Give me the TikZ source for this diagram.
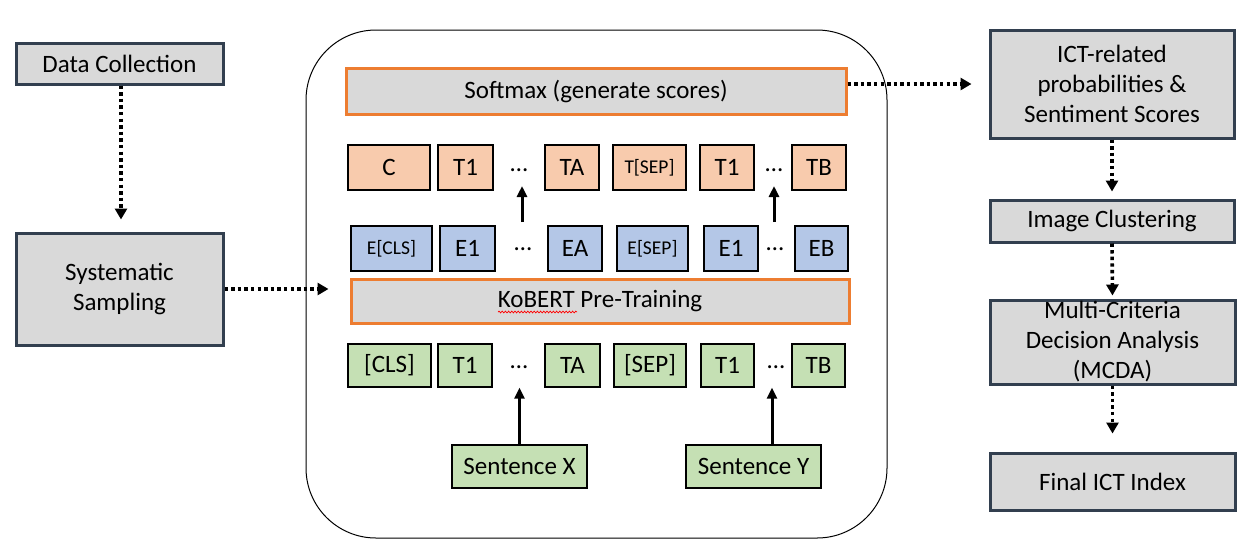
\documentclass[tikz,border=0pt]{standalone}
\usepackage{fontspec}
\setmainfont{Carlito}
\usetikzlibrary{arrows.meta,decorations.pathmorphing}
\definecolor{boxgray}{HTML}{D9D9D9}
\definecolor{boxdark}{HTML}{323F4F}
\definecolor{orfill}{HTML}{F8CBAD}
\definecolor{orline}{HTML}{ED7D31}
\definecolor{blfill}{HTML}{B4C7E7}
\definecolor{grfill}{HTML}{C5E0B4}
\tikzset{
  txt/.style={font=\fontsize{25}{30}\selectfont, text=black, inner sep=0pt, align=center},
  smalltxt/.style={font=\fontsize{19.5}{22}\selectfont},
  graybox/.style={txt, draw=boxdark, fill=boxgray, line width=3pt},
  layerbox/.style={txt, draw=orline, fill=boxgray, line width=3pt},
  tokbox/.style={txt, draw=black, line width=1.3pt, minimum height=45pt},
  orbox/.style={tokbox, fill=orfill},
  blbox/.style={tokbox, fill=blfill},
  grbox/.style={tokbox, fill=grfill, minimum height=43pt},
  dotsnode/.style={txt, inner sep=0pt},
  dotarrow/.style={line width=3.6pt, dash pattern=on 3.4pt off 3.2pt, -{Triangle[width=12pt,length=11pt]}},
  solidarrow/.style={line width=3pt, -{Triangle[width=10pt,length=11pt]}},
}
\begin{document}
\begin{tikzpicture}[x=1pt,y=-1pt]
\useasboundingbox (0,0) rectangle (1247,542);

% container
\node[draw=black, line width=1pt, rounded corners=70pt, minimum width=581pt, minimum height=508pt, inner sep=0pt] (bert) at (596.5,284) {};

% left column
\node[graybox, minimum width=207pt, minimum height=41pt] (dc) at (119.5,63.5) {Data Collection};
\node[graybox, minimum width=207pt, minimum height=112pt] (ss) at (119.5,289) {Systematic\\Sampling};

% layers
\node[layerbox, minimum width=500pt, minimum height=46pt] (soft) at (596,91) {Softmax (generate scores)};
\node[layerbox, minimum width=498pt, minimum height=44pt] (kob) at (600,301) {KoBERT Pre-Training};
\draw[red, line width=0.7pt, decorate, decoration={snake, amplitude=0.9pt, segment length=3.2pt}] (498,312) -- (577,312);

% orange row
\node[orbox, minimum width=82pt] (oC) at (389,167.5) {C};
\node[orbox, minimum width=55pt] (oT1) at (465.5,167.5) {T1};
\node[dotsnode] (od1) at (519,170) {…};
\node[orbox, minimum width=54pt] (oTA) at (572,167.5) {TA};
\node[orbox, minimum width=73pt, smalltxt] (oSEP) at (649.5,167.5) {T[SEP]};
\node[orbox, minimum width=54pt] (oT1b) at (727,167.5) {T1};
\node[dotsnode] (od2) at (774,170) {…};
\node[orbox, minimum width=54pt] (oTB) at (819,167.5) {TB};

% blue row
\node[blbox, minimum width=81pt, smalltxt] (bCLS) at (391.5,248.5) {E[CLS]};
\node[blbox, minimum width=55pt] (bE1) at (467.5,248.5) {E1};
\node[dotsnode] (bd1) at (523,249) {…};
\node[blbox, minimum width=54pt] (bEA) at (575,248.5) {EA};
\node[blbox, minimum width=71pt, smalltxt] (bSEP) at (652.5,248.5) {E[SEP]};
\node[blbox, minimum width=54pt] (bE1b) at (731,248.5) {E1};
\node[dotsnode] (bd2) at (775,249) {…};
\node[blbox, minimum width=53pt] (bEB) at (821.5,248.5) {EB};

% green row
\node[grbox, minimum width=83pt] (gCLS) at (389.5,365.5) {[CLS]};
\node[grbox, minimum width=54pt] (gT1) at (465,365.5) {T1};
\node[dotsnode] (gd1) at (519,367) {…};
\node[grbox, minimum width=55pt] (gTA) at (572.5,365.5) {TA};
\node[grbox, minimum width=72pt] (gSEP) at (650,365.5) {[SEP]};
\node[grbox, minimum width=53pt] (gT1b) at (727.5,365.5) {T1};
\node[dotsnode] (gd2) at (776,367) {…};
\node[grbox, minimum width=53pt] (gTB) at (818.5,365.5) {TB};

% sentences
\node[grbox, minimum width=135pt, minimum height=43pt] (sx) at (519.5,466.5) {Sentence X};
\node[grbox, minimum width=135pt, minimum height=43pt] (sy) at (753.5,466.5) {Sentence Y};

% right column
\node[graybox, minimum width=244pt, minimum height=108pt] (ict) at (1112,84) {ICT-related\\probabilities \&\\Sentiment Scores};
\node[graybox, minimum width=244pt, minimum height=42pt] (ic) at (1112,221) {Image Clustering};
\node[graybox, minimum width=245pt, minimum height=84pt] (mcda) at (1112.5,342) {Multi-Criteria\\Decision Analysis\\(MCDA)};
\node[graybox, minimum width=245pt, minimum height=57pt] (fin) at (1112.5,481.5) {Final ICT Index};

% coordinates for internal arrows
\coordinate (a1s) at (522,222);
\coordinate (a1e) at (522,186);
\coordinate (a2s) at (774,222);
\coordinate (a2e) at (774,186);

% solid arrows
\draw[solidarrow] (a1s) -- (a1e);
\draw[solidarrow] (a2s) -- (a2e);
\draw[solidarrow] (sx.north) -- (sx.north |- gTA.south);
\draw[solidarrow] ([xshift=18.5pt]sy.north) -- ([xshift=18.5pt]sy.north |- gTB.south);

% dotted arrows
\draw[dotarrow, shorten >=12pt] ([xshift=1.5pt]dc.south) -- ([xshift=1.5pt]ss.north);
\draw[dotarrow, shorten >=21pt] (ss.east) -- (ss.east -| kob.west);
\draw[dotarrow, shorten >=17pt] (soft.east |- ict.west) -- (ict.west);
\draw[dotarrow, shorten >=7pt] (ict.south) -- (ic.north);
\draw[dotarrow, shorten >=3pt] (ic.south) -- (mcda.north);
\draw[dotarrow, shorten >=18pt] (mcda.south) -- (fin.north);
\end{tikzpicture}
\end{document}
